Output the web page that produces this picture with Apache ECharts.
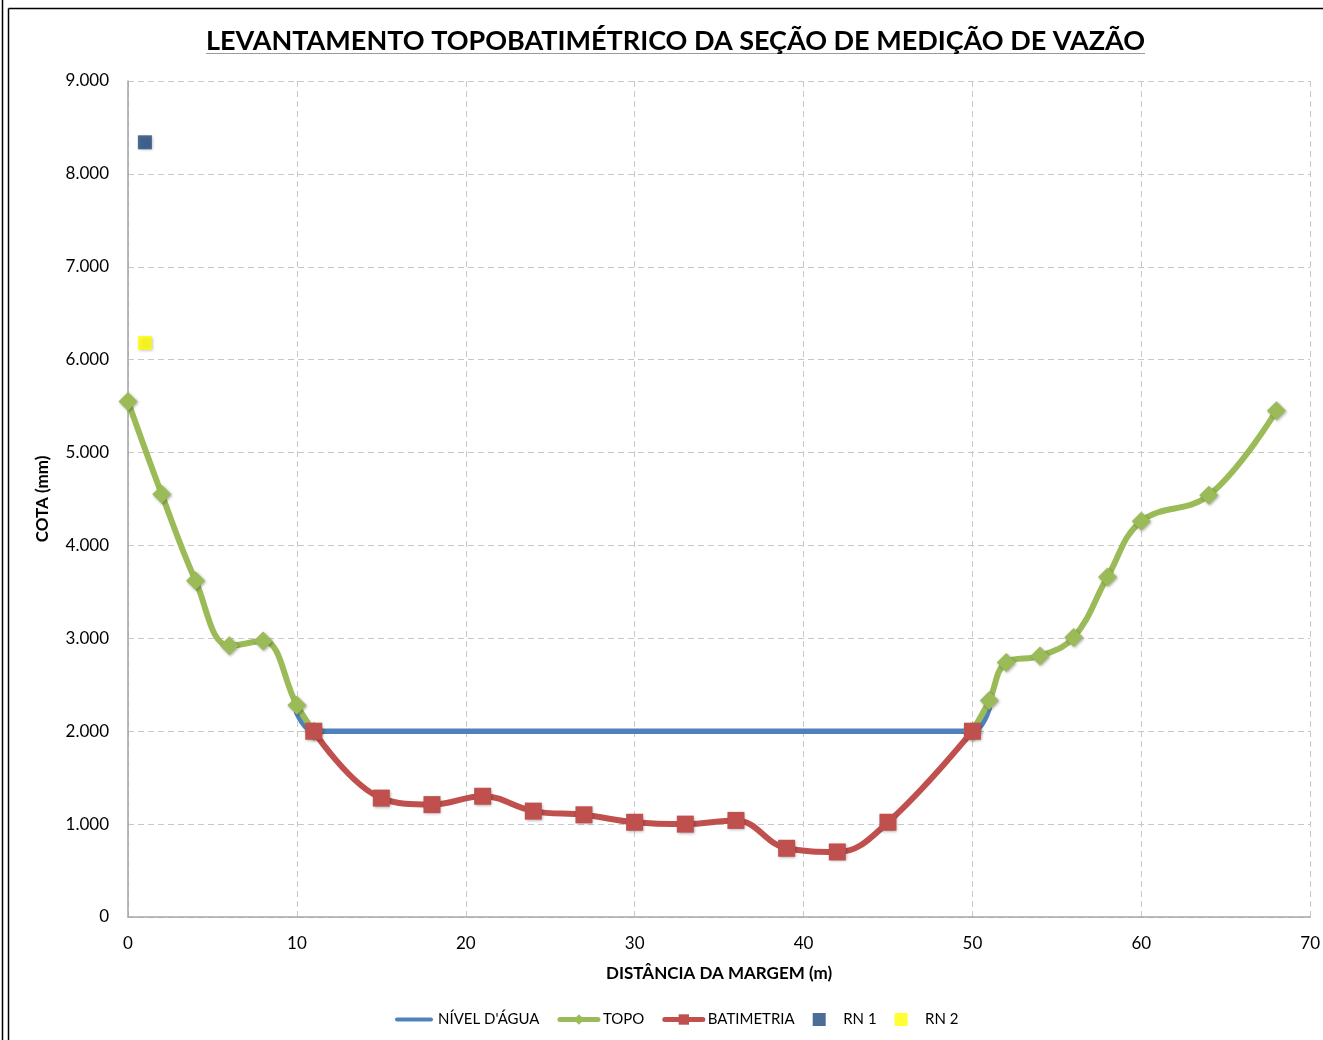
<!DOCTYPE html>
<html><head><meta charset="utf-8">
<script src="https://cdn.jsdelivr.net/npm/echarts@6/dist/echarts.min.js"></script>
<style>html,body{margin:0;padding:0;background:#fff}#c{width:1323px;height:1040px}</style>
</head><body><div id="c"></div>
<script>
// Data (distance in m, cota in mm)
const nivelAgua = [[10, 2200], [11, 2000], [15, 2000], [45, 2000], [50, 2000], [51, 2250]];
const topoLeft = [[0, 5550], [2, 4550], [4, 3620], [6, 2920], [8, 2970], [10, 2280], [11, 2000]];
const topoRight = [[50, 2000], [51, 2330], [52, 2740], [54, 2810], [56, 3010], [58, 3660], [60, 4260], [64, 4540], [68, 5450]];
const batimetria = [[11, 2000], [15, 1280], [18, 1210], [21, 1300], [24, 1140], [27, 1100], [30, 1020], [33, 1000], [36, 1040], [39, 740], [42, 700], [45, 1020], [50, 2000]];
const rn1 = [[1, 8340]];
const rn2 = [[1, 6180]];
const seriesNames = ["NÍVEL D'ÁGUA", 'TOPO', 'BATIMETRIA', 'RN 1', 'RN 2'];

const FONT = 'Lato';
const shadow = {shadowBlur: 3, shadowColor: 'rgba(0,0,0,0.35)', shadowOffsetX: 1, shadowOffsetY: 1};
const fmt = v => v === 0 ? '0' : String(v).replace(/\B(?=(\d{3})+(?!\d))/g, '.');
const SQ = 'path://M0,0 L10,0 L10,10 L0,10 Z';
const BAR = 'path://M2,0 L36,0 A2,2 0 0 1 36,4 L2,4 A2,2 0 0 1 2,0 Z';

const chart = echarts.init(document.getElementById('c'), null, {renderer: 'canvas'});
chart.setOption({
  backgroundColor: '#fff',
  animation: false,
  title: {
    text: 'LEVANTAMENTO TOPOBATIMÉTRICO DA SEÇÃO DE MEDIÇÃO DE VAZÃO',
    left: 201, top: 23,
    textStyle: {fontFamily: FONT, fontWeight: 'bold', fontSize: 27, color: '#000'}
  },
  legend: {
    bottom: 8, left: 390,
    itemWidth: 38, itemHeight: 13, itemGap: 18,
    textStyle: {fontFamily: FONT, fontSize: 15, color: '#000'},
    data: [
      {name: seriesNames[0], icon: BAR},
      {name: seriesNames[1], lineStyle: {width: 5}},
      {name: seriesNames[2], lineStyle: {width: 5}},
      {name: seriesNames[3], icon: SQ},
      {name: seriesNames[4], icon: SQ}
    ]
  },
  grid: {left: 128, right: 10, top: 81, bottom: 123, containLabel: false},
  xAxis: {
    type: 'value', min: 0, max: 70, interval: 10,
    name: 'DISTÂNCIA DA MARGEM (m)', nameLocation: 'middle', nameGap: 48,
    nameTextStyle: {fontFamily: FONT, fontWeight: 'bold', fontSize: 17, color: '#000'},
    axisLine: {show: true, lineStyle: {color: '#a6a6a6', width: 1.5}},
    axisTick: {show: false},
    axisLabel: {fontFamily: FONT, fontSize: 17, color: '#000', margin: 18},
    splitLine: {show: true, lineStyle: {color: '#c8c8c8', type: [6, 4], width: 1}}
  },
  yAxis: {
    type: 'value', min: 0, max: 9000, interval: 1000,
    name: 'COTA (mm)', nameLocation: 'middle', nameGap: 77, nameRotate: 90,
    nameTextStyle: {fontFamily: FONT, fontWeight: 'bold', fontSize: 17, color: '#000'},
    axisLine: {show: true, lineStyle: {color: '#a6a6a6', width: 1.5}},
    axisTick: {show: false},
    axisLabel: {fontFamily: FONT, fontSize: 17, color: '#000', margin: 19, formatter: fmt},
    splitLine: {show: true, lineStyle: {color: '#c8c8c8', type: [6, 4], width: 1}}
  },
  series: [
    {name: seriesNames[0], type: 'line', data: nivelAgua, smooth: 0.4, showSymbol: false, symbol: 'none',
     lineStyle: {color: '#4F81BD', width: 5.5, cap: 'round'}, itemStyle: {color: '#4F81BD'}, z: 2},
    {name: seriesNames[1], type: 'line', data: topoLeft, smooth: 0.4, symbol: 'diamond', symbolSize: 19,
     lineStyle: {color: '#9BBB59', width: 6, cap: 'round'}, itemStyle: Object.assign({color: '#9BBB59'}, shadow), z: 3},
    {name: seriesNames[1], type: 'line', data: topoRight, smooth: 0.4, symbol: 'diamond', symbolSize: 19,
     lineStyle: {color: '#9BBB59', width: 6, cap: 'round'}, itemStyle: Object.assign({color: '#9BBB59'}, shadow), z: 3},
    {name: seriesNames[2], type: 'line', data: batimetria, smooth: 0.4, symbol: 'rect', symbolSize: 17,
     lineStyle: {color: '#C0504D', width: 6, cap: 'round'}, itemStyle: Object.assign({color: '#C0504D'}, shadow), z: 4},
    {name: seriesNames[3], type: 'scatter', data: rn1, symbol: 'rect', symbolSize: 14,
     itemStyle: Object.assign({color: '#1F497D'}, shadow), z: 5},
    {name: seriesNames[4], type: 'scatter', data: rn2, symbol: 'rect', symbolSize: 14,
     itemStyle: Object.assign({color: '#FFFF00'}, shadow), z: 5}
  ],
  graphic: [
    {type: 'line', shape: {x1: 2.5, y1: 0, x2: 2.5, y2: 1040}, style: {stroke: '#000', lineWidth: 1.5}},
    {type: 'line', shape: {x1: 8.5, y1: 8.5, x2: 8.5, y2: 1040}, style: {stroke: '#000', lineWidth: 1.5}},
    {type: 'line', shape: {x1: 8.5, y1: 8.5, x2: 1323, y2: 8.5}, style: {stroke: '#000', lineWidth: 1.5}},
    {type: 'line', shape: {x1: 206, y1: 53.5, x2: 1145, y2: 53.5}, style: {stroke: '#9a9a9a', lineWidth: 1}}
  ]
});
</script></body></html>
